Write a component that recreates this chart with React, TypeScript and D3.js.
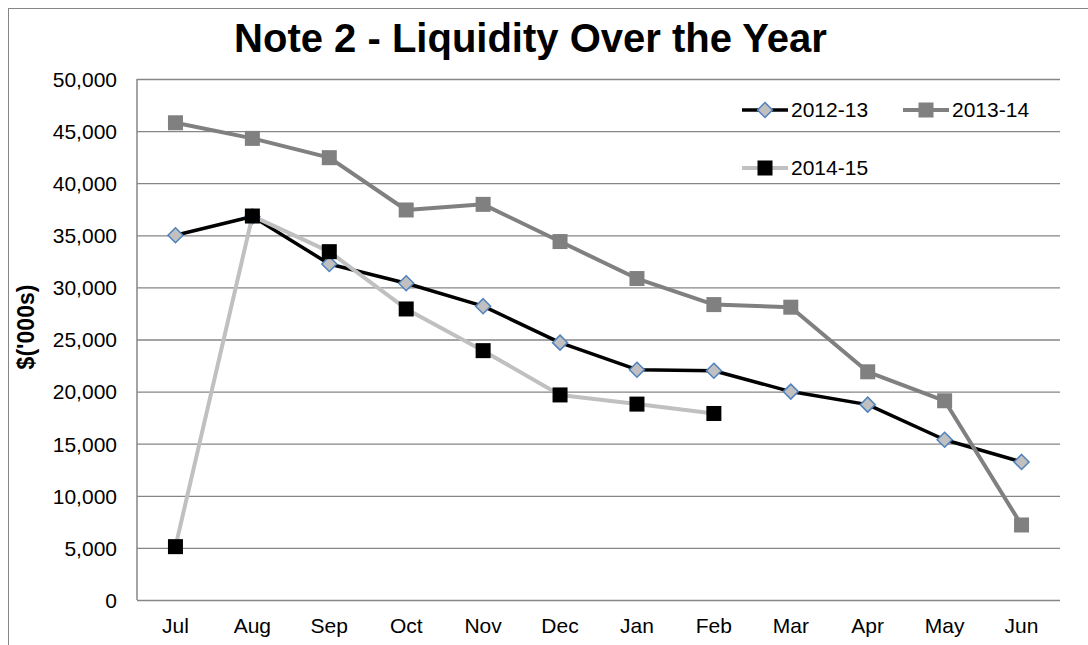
import { useEffect, useRef } from 'react'
import * as d3 from 'd3'

const months = ['Jul', 'Aug', 'Sep', 'Oct', 'Nov', 'Dec', 'Jan', 'Feb', 'Mar', 'Apr', 'May', 'Jun']
const yTicks = [0, 5000, 10000, 15000, 20000, 25000, 30000, 35000, 40000, 45000, 50000]

const fy2012 = [35000, 36800, 32250, 30400, 28200, 24700, 22100, 22000, 20000, 18750, 15380, 13250]
const fy2013 = [45800, 44300, 42450, 37430, 37970, 34400, 30850, 28350, 28100, 21900, 19120, 7200]
const fy2014 = [5120, 36850, 33430, 27930, 23930, 19680, 18800, 17900]

const FONT = '"Liberation Sans", Arial, sans-serif'

/**
 * 연도별 유동성 라인 차트 (Excel 스타일)
 */
export default function App() {
  const svgRef = useRef<SVGSVGElement>(null)

  useEffect(() => {
    if (!svgRef.current) return
    const svg = d3.select(svgRef.current)
    svg.selectAll('*').remove()

    const width = 1088
    const height = 645
    const plot = { left: 137, right: 1060, top: 79, bottom: 600 }

    svg.attr('width', width).attr('height', height).style('font-family', FONT)

    // 바깥 테두리
    svg
      .append('rect')
      .attr('x', 8.5)
      .attr('y', 8.5)
      .attr('width', 1200)
      .attr('height', 800)
      .attr('fill', 'white')
      .attr('stroke', '#868686')
      .attr('stroke-width', 1)

    const xScale = d3.scaleBand().domain(months).range([plot.left, plot.right])
    const cx = (m: string) => (xScale(m) || 0) + xScale.bandwidth() / 2
    const yScale = d3.scaleLinear().domain([0, 50000]).range([plot.bottom, plot.top])

    // 그리드 + Y축
    const yAxis = svg
      .append('g')
      .attr('transform', `translate(${plot.left},0)`)
      .call(
        d3
          .axisLeft(yScale)
          .tickValues(yTicks)
          .tickSize(-(plot.right - plot.left))
          .tickPadding(20)
          .tickFormat(d => d3.format(',')(d as number))
      )
    yAxis.select('.domain').remove()
    yAxis.selectAll('line').attr('stroke', '#868686').attr('stroke-width', 1.3)
    yAxis
      .selectAll('text')
      .attr('font-family', FONT)
      .style('font-size', '21px')
      .attr('fill', '#000')
      .attr('dy', '0.35em')

    svg
      .append('line')
      .attr('x1', plot.left)
      .attr('x2', plot.left)
      .attr('y1', plot.top)
      .attr('y2', plot.bottom)
      .attr('stroke', '#868686')
      .attr('stroke-width', 1.5)

    // X축 라벨
    const xAxis = svg
      .append('g')
      .attr('transform', `translate(0,${plot.bottom})`)
      .call(d3.axisBottom(xScale).tickSize(0).tickPadding(26))
    xAxis.select('.domain').remove()
    xAxis
      .selectAll('text')
      .attr('font-family', FONT)
      .style('font-size', '21px')
      .attr('fill', '#000')
      .attr('dy', '0.35em')

    // 시리즈
    const series = [
      { name: '2012-13', values: fy2012, line: '#000000', width: 3.5, marker: 'diamond', fill: '#c0c0c0', stroke: '#4f81bd' },
      { name: '2013-14', values: fy2013, line: '#808080', width: 4, marker: 'square', fill: '#808080', stroke: 'none' },
      { name: '2014-15', values: fy2014, line: '#c0c0c0', width: 4, marker: 'square', fill: '#000000', stroke: 'none' },
    ]

    const lineGen = d3
      .line<number>()
      .x((_, i) => cx(months[i]))
      .y(d => yScale(d))

    const drawMarker = (
      g: d3.Selection<SVGGElement, unknown, null, undefined>,
      s: (typeof series)[number],
      x: number,
      y: number
    ) => {
      if (s.marker === 'diamond') {
        const r = 7.5
        g.append('path')
          .attr('d', `M${x},${y - r}L${x + r},${y}L${x},${y + r}L${x - r},${y}Z`)
          .attr('fill', s.fill)
          .attr('stroke', s.stroke)
          .attr('stroke-width', 1.5)
      } else {
        const h = 7.5
        g.append('rect')
          .attr('x', x - h)
          .attr('y', y - h)
          .attr('width', h * 2)
          .attr('height', h * 2)
          .attr('fill', s.fill)
      }
    }

    series.forEach(s => {
      const g = svg.append('g')
      g.append('path')
        .datum(s.values)
        .attr('d', lineGen)
        .attr('fill', 'none')
        .attr('stroke', s.line)
        .attr('stroke-width', s.width)
        .attr('stroke-linejoin', 'round')
      s.values.forEach((v, i) => drawMarker(g, s, cx(months[i]), yScale(v)))
    })

    // 범례
    const legendPos = [
      { x: 742, y: 110 },
      { x: 903, y: 110 },
      { x: 742, y: 168 },
    ]
    series.forEach((s, i) => {
      const p = legendPos[i]
      const g = svg.append('g')
      g.append('line')
        .attr('x1', p.x)
        .attr('x2', p.x + 46)
        .attr('y1', p.y)
        .attr('y2', p.y)
        .attr('stroke', s.line)
        .attr('stroke-width', s.width)
      drawMarker(g, s, p.x + 23, p.y)
      g.append('text')
        .attr('x', p.x + 49)
        .attr('y', p.y)
        .attr('dy', '0.35em')
        .style('font-size', '21px')
        .text(s.name)
    })

    // 제목
    svg
      .append('text')
      .attr('x', 530.5)
      .attr('y', 51.5)
      .attr('text-anchor', 'middle')
      .style('font-size', '40px')
      .style('font-weight', 'bold')
      .text('Note 2 - Liquidity Over the Year')

    // Y축 제목
    svg
      .append('text')
      .attr('transform', `translate(26,327) rotate(-90)`)
      .attr('text-anchor', 'middle')
      .attr('dy', '0.35em')
      .style('font-size', '23px')
      .style('font-weight', 'bold')
      .text("$('000s)")
  }, [])

  return (
    <div style={{ position: 'absolute', left: 0, top: 0 }}>
      <svg ref={svgRef}></svg>
    </div>
  )
}
